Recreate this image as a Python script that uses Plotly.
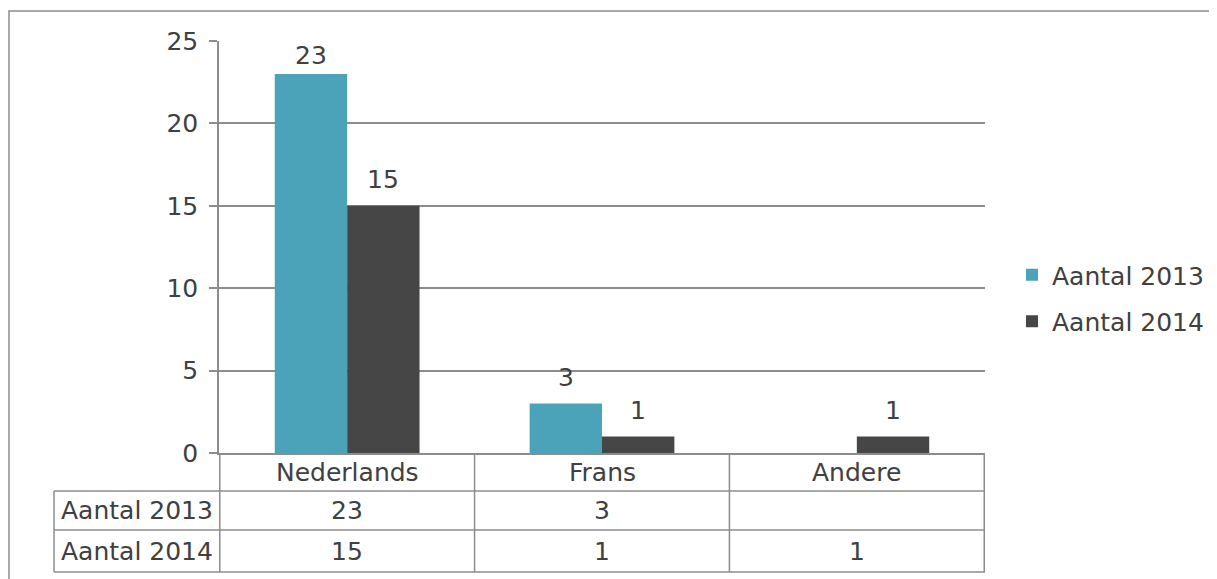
import plotly.graph_objects as go

# data
talen = ['Nederlands', 'Frans', 'Andere']
aantal_2013 = [23, 3, None]
aantal_2014 = [15, 1, 1]
reeksen = ['Aantal 2013', 'Aantal 2014']
kleuren = ['#4AA3B8', '#464646']

FONT = 'Century Gothic, DejaVu Sans'
TEKST = '#404040'
LIJN = '#8C8C8C'
FS = 25
YMAX = 25
BARGAP = 0.432

# the page body has an 8px margin, so the figure starts at (8, 8)
OFF = 8
W, H = 1217 - OFF, 579 - OFF
X0, X1, Y0, Y1 = 219, 985, 41, 453   # plot area in screen pixels
pw, ph = X1 - X0, Y1 - Y0
L, T = X0 - OFF, Y0 - OFF
R, B = W - L - pw, H - T - ph


def px_x(x):
    return (x - X0) / pw


def px_y(y):
    return (Y1 - y) / ph


fig = go.Figure()
for naam, waarden, kleur in zip(reeksen, [aantal_2013, aantal_2014], kleuren):
    fig.add_trace(go.Bar(
        x=talen, y=waarden, name=naam, marker_color=kleur,
        marker_line_width=0, legendgroup=naam,
    ))

annotations = []

# data labels above the bars, like Excel places them
balk = pw / len(talen) * (1 - BARGAP) / len(reeksen)
for s, waarden in enumerate([aantal_2013, aantal_2014]):
    dx = (s - (len(reeksen) - 1) / 2) * balk
    for taal, v in zip(talen, waarden):
        if v is None:
            continue
        boven = (YMAX - v) / YMAX * ph
        annotations.append(dict(x=taal, y=v, xref='x', yref='y', text=str(v),
                                showarrow=False, xanchor='center', yanchor='middle',
                                xshift=dx, yshift=min(26, boven - 14)))

# data table under the plot
rij_y = [px_y(453), px_y(491), px_y(530), px_y(572)]
links = px_x(54)
lijn = dict(color=LIJN, width=1.5)
shapes = []
for y in rij_y[1:]:
    shapes.append(dict(type='line', xref='paper', yref='paper', x0=links, x1=1,
                       y0=y, y1=y, line=lijn))
for i in range(len(talen) + 1):
    shapes.append(dict(type='line', xref='x', yref='paper', x0=i - 0.5, x1=i - 0.5,
                       y0=rij_y[0], y1=rij_y[3], line=lijn))
shapes.append(dict(type='line', xref='paper', yref='paper', x0=links, x1=links,
                   y0=rij_y[1], y1=rij_y[3], line=lijn))
# chart border
shapes.append(dict(type='rect', xref='paper', yref='paper', x0=px_x(9), x1=px_x(1230),
                   y0=px_y(590), y1=px_y(11), line=lijn))

cel = dict(showarrow=False, xanchor='center', yanchor='middle')
for taal in talen:
    annotations.append(dict(x=taal, y=(rij_y[0] + rij_y[1]) / 2, xref='x', yref='paper',
                            text=taal, **cel))
for r, (naam, waarden) in enumerate(zip(reeksen, [aantal_2013, aantal_2014])):
    ym = (rij_y[r + 1] + rij_y[r + 2]) / 2
    annotations.append(dict(x=links / 2, y=ym, xref='paper', yref='paper',
                            text=naam, **cel))
    for taal, v in zip(talen, waarden):
        if v is not None:
            annotations.append(dict(x=taal, y=ym, xref='x', yref='paper',
                                    text=str(v), **cel))

fig.update_layout(
    width=W, height=H,
    margin=dict(l=L, r=R, t=T, b=B, autoexpand=False),
    paper_bgcolor='white', plot_bgcolor='white',
    font=dict(family=FONT, size=FS, color=TEKST),
    bargap=BARGAP, bargroupgap=0,
    shapes=shapes, annotations=annotations,
    legend=dict(x=px_x(1012), y=px_y(298), yanchor='middle', xanchor='left',
                traceorder='grouped', tracegroupgap=11,
                font=dict(family=FONT, size=FS, color=TEKST)),
    xaxis=dict(showticklabels=False, showline=True, linecolor=LIJN, linewidth=1.5,
               ticks='', showgrid=False),
    yaxis=dict(range=[0, YMAX], dtick=5, showline=True, linecolor=LIJN, linewidth=1.5,
               gridcolor=LIJN, gridwidth=1.5, ticks='outside', ticklen=8,
               tickcolor=LIJN, tickwidth=1.5, zeroline=False, ticklabelstandoff=6),
)

fig.write_html('out.html')
